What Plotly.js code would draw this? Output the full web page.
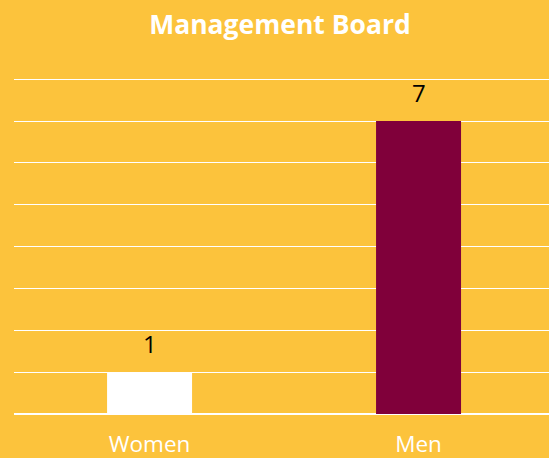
<!DOCTYPE html>
<html><head><meta charset="utf-8">
<script src="https://cdn.plot.ly/plotly-3.0.1.min.js"></script>
<style>html,body{margin:0;padding:0;background:#FCC33C;}</style>
</head><body>
<div id="chart" style="width:549px;height:458px;"></div>
<script>
const categories = ["Women", "Men"];
const values = [1, 7];
const barColors = ["#FFFFFF", "#80003A"];
const chartTitle = "Management Board";

const annotations = categories.map((c, i) => ({
  x: c, y: values[i], xref: "x", yref: "y",
  text: String(values[i]), showarrow: false,
  yanchor: "bottom", yshift: 10,
  font: {family: "Open Sans, sans-serif", size: 24, color: "#000000"}
}));

Plotly.newPlot("chart", [{
  type: "bar",
  x: categories,
  y: values,
  width: 0.316,
  marker: {color: barColors},
  hoverinfo: "none"
}], {
  width: 549, height: 458,
  paper_bgcolor: "#FCC33C",
  plot_bgcolor: "#FCC33C",
  margin: {l: 14, r: 0, t: 73, b: 44},
  title: {text: "<b>" + chartTitle + "</b>", x: 0.51, xanchor: "center", y: 0.947, yanchor: "middle",
          font: {family: "Open Sans, sans-serif", size: 26.5, color: "#FFFFFF"}},
  xaxis: {range: [-0.504, 1.485], showgrid: false, zeroline: false, showline: false,
          ticks: "", ticklabelstandoff: 14,
          tickfont: {family: "Open Sans, sans-serif", size: 22.5, color: "#FFFFFF"}, fixedrange: true},
  yaxis: {range: [0, 8.15], tickvals: [0,1,2,3,4,5,6,7,8], showgrid: true, gridcolor: "#FFFFFF", gridwidth: 1,
          zeroline: true, zerolinecolor: "#FFFFFF", zerolinewidth: 2,
          showticklabels: false, ticks: "", fixedrange: true},
  annotations: annotations,
  showlegend: false
}, {displayModeBar: false, staticPlot: true});
</script>
</body></html>
